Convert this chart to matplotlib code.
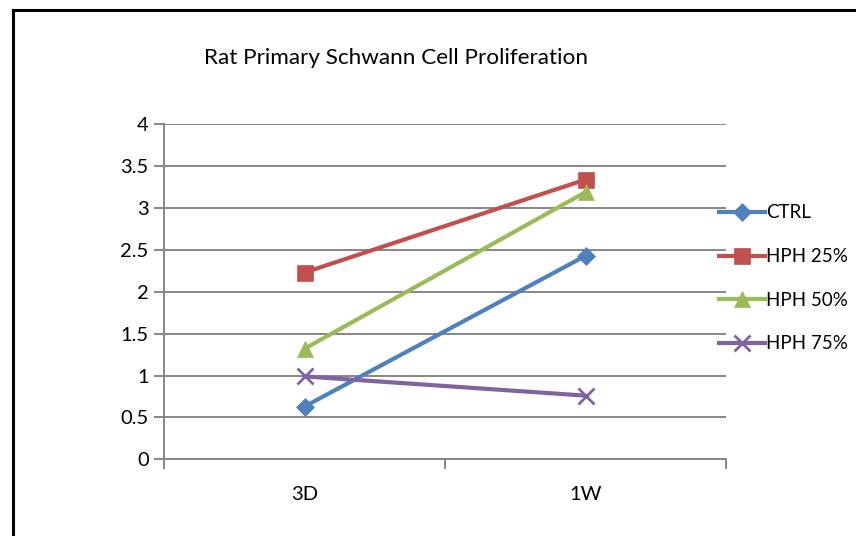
import matplotlib
matplotlib.use('Agg')
import matplotlib.pyplot as plt
from matplotlib.lines import Line2D

plt.rcParams['font.family'] = ['Lato', 'DejaVu Sans']

categories = ['3D', '1W']
ctrl = [0.63, 2.43]
hph25 = [2.23, 3.34]
hph50 = [1.32, 3.19]
hph75 = [0.99, 0.76]

series = [
    ('CTRL', ctrl, '#4F81BD', 'D', 9.5),
    ('HPH 25%', hph25, '#C0504D', 's', 11.5),
    ('HPH 50%', hph50, '#9BBB59', '^', 11.5),
    ('HPH 75%', hph75, '#8064A2', 'x', 11),
]

fig = plt.figure(figsize=(8.56, 5.36), dpi=100)
ax = fig.add_axes([164 / 856, 1 - 459.3 / 536, (726 - 164) / 856, (459.3 - 124.3) / 536])

x = list(range(len(categories)))
for name, vals, color, marker, ms in series:
    ax.plot(x, vals, color=color, lw=3, marker=marker, markersize=ms,
            markeredgewidth=2 if marker == 'x' else 0.5, markeredgecolor=color,
            label=name, solid_capstyle='round')

ax.set_xlim(-0.5, 1.5)
ax.set_ylim(0, 4)
ax.set_yticks([0, 0.5, 1, 1.5, 2, 2.5, 3, 3.5, 4])
ax.set_yticklabels(['0', '0.5', '1', '1.5', '2', '2.5', '3', '3.5', '4'])
ax.yaxis.grid(True, color='#868686', lw=1.4)
ax.set_axisbelow(True)

# category boundaries as major ticks, labels as minor ticks
ax.set_xticks([-0.5, 0.5, 1.5])
ax.set_xticklabels([])
ax.set_xticks(x, minor=True)
ax.set_xticklabels(categories, minor=True)
ax.tick_params(axis='x', which='minor', length=0, pad=19, labelsize=14.5)
ax.tick_params(axis='x', which='major', length=7, width=1.4, color='#868686')
ax.tick_params(axis='y', length=7, width=1.4, color='#868686', labelsize=14.5, pad=4)

for s in ['top', 'right']:
    ax.spines[s].set_visible(False)
for s in ['left', 'bottom']:
    ax.spines[s].set_color('#868686')
    ax.spines[s].set_linewidth(1.4)

handles = [Line2D([0], [0], color=c, lw=3, marker=m, markersize=ms,
                  markeredgewidth=2 if m == 'x' else 0.5, markeredgecolor=c)
           for _, _, c, m, ms in series]
fig.legend(handles, [s[0] for s in series], loc='upper left',
           bbox_to_anchor=(711 / 856, 1 - 197 / 536), frameon=False,
           fontsize=13.5, handlelength=2.5, handletextpad=0.05, labelspacing=1.42,
           borderaxespad=0)

fig.text(396 / 856, 1 - 58 / 536, 'Rat Primary Schwann Cell Proliferation',
         ha='center', va='center', fontsize=16.2)

# frame of the chart area (left and top edges visible)
fig.add_artist(Line2D([13 / 856, 13 / 856], [0, 1 - 9.5 / 536], color='black', lw=2.2,
                      transform=fig.transFigure))
fig.add_artist(Line2D([13 / 856, 1], [1 - 9.5 / 536, 1 - 9.5 / 536], color='black', lw=2.2,
                      transform=fig.transFigure))

fig.savefig('out.png', dpi=100)
